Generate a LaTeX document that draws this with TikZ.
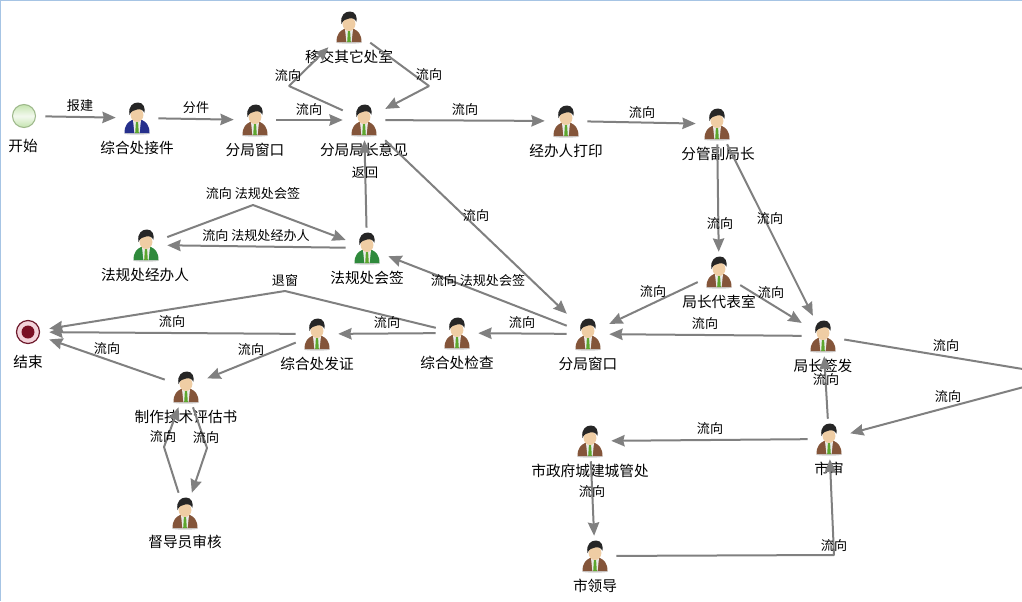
\documentclass[tikz,border=0pt]{standalone}
\usepackage{fontspec}
\setmainfont{Noto Sans CJK SC}
\usetikzlibrary{arrows.meta}
\definecolor{flowgray}{HTML}{808080}
\definecolor{coatbrown}{HTML}{84553A}
\definecolor{coatblue}{HTML}{26308C}
\definecolor{coatgreen}{HTML}{2F8A3C}
\definecolor{skin}{HTML}{EFCDA4}
\definecolor{hair}{HTML}{262626}
\definecolor{tiegreen}{HTML}{5DA62E}
\definecolor{framecol}{HTML}{A6C4E4}
\definecolor{startrim}{HTML}{9DB88A}
\definecolor{startfill}{HTML}{C4E3AE}
\definecolor{endrim}{HTML}{6E1A2C}
\definecolor{endring}{HTML}{F3D3DA}
\definecolor{endcore}{HTML}{7A1024}
\tikzset{
	man/.pic={
		\fill[black!18] (0,15.5) ellipse [x radius=13, y radius=1.2];
		\fill[#1] (-12.5,15) .. controls (-12.5,7) and (-9,4) .. (-5,2) -- (5,2) .. controls (9,4) and (12.5,7) .. (12.5,15) -- cycle;
		\fill[white!92!black] (-4,2) -- (4,2) -- (2.6,15) -- (-2.6,15) -- cycle;
		\fill[tiegreen] (-1.1,4) -- (1.1,4) -- (1.8,15) -- (-1.8,15) -- cycle;
		\fill[skin] (0,-3) ellipse [x radius=6.4, y radius=7];
		\fill[hair] (-7.5,-3) .. controls (-9,-12) and (-4,-15.5) .. (1,-15.5) .. controls (6.5,-15.5) and (8.5,-10) .. (7.4,-5)
			.. controls (6.5,-8) and (3,-9.5) .. (0,-8.5) .. controls (-3,-8) and (-6,-7) .. (-7.5,-3) -- cycle;
	}
}
\begin{document}
\begin{tikzpicture}[x=0.75pt,y=-0.75pt,
	flow/.style={-{Stealth[length=10pt,width=8.5pt,inset=1pt]},flowgray,line width=1.5pt,line join=bevel},
	main/.style={shape=rectangle, minimum width=31.5pt, minimum height=30pt, inner sep=0pt},
	nametext/.style={font=\fontsize{11pt}{12pt}\selectfont, inner sep=0pt},
	lbl/.style={font=\fontsize{9.8pt}{11pt}\selectfont, inner sep=0pt}];
	\useasboundingbox (0,0) rectangle (1022,601);
	\clip (0,0) rectangle (1022,601);
	\fill[white] (0,0) rectangle (1022,601);
	\draw[framecol, line width=1.2pt] (0,601) -- (0,0) -- (1022,0);

	% start and end events
	\node[main] (start) at (24,116) {};
	\node[main] (end) at (28,332) {};
	\shade[top color=startfill, bottom color=startfill, middle color=white!80!startfill, draw=startrim, line width=.8pt] (start.center) circle [radius=11.5];
	\fill[endring] (end.center) circle [radius=11.5];
	\draw[endrim, line width=.9pt] (end.center) circle [radius=11.5];
	\fill[endcore] (end.center) circle [radius=6.5];
	\node[nametext] (startname) at (23,146) {开始};
	\node[nametext] (endname) at (28,362) {结束};

	% people
	\node[main] (yijiao) at (349,27) {};
	\node[main] (jiejian) at (137,118) {};
	\node[main] (chuangkou) at (255,120) {};
	\node[main] (yijian) at (364,120) {};
	\node[main] (dayin) at (566,121) {};
	\node[main] (fujuzhang) at (717,124) {};
	\node[main] (jingban) at (146,245) {};
	\node[main] (huiqian) at (367,248) {};
	\node[main] (daibiao) at (719,272) {};
	\node[main] (fazheng) at (317,334) {};
	\node[main] (jiancha) at (457,333) {};
	\node[main] (chuangkoub) at (588,334) {};
	\node[main] (qianfa) at (823,336) {};
	\node[main] (pinggu) at (186,387) {};
	\node[main] (shishen) at (829,439) {};
	\node[main] (chengguan) at (590,441) {};
	\node[main] (dudao) at (185,513) {};
	\node[main] (shilingdao) at (595,556) {};

	\foreach \n/\c in {yijiao/coatbrown,jiejian/coatblue,chuangkou/coatbrown,yijian/coatbrown,dayin/coatbrown,
		fujuzhang/coatbrown,jingban/coatgreen,huiqian/coatgreen,daibiao/coatbrown,fazheng/coatbrown,jiancha/coatbrown,
		chuangkoub/coatbrown,qianfa/coatbrown,pinggu/coatbrown,shishen/coatbrown,chengguan/coatbrown,dudao/coatbrown,shilingdao/coatbrown}
		\pic at (\n) {man=\c};

	\foreach \n/\t/\x/\y in {yijiaot/移交其它处室/349/57,jiejiant/综合处接件/137/148,chuangkout/分局窗口/255/150,
		yijiant/分局局长意见/364/150,dayint/经办人打印/566/151,fujuzhangt/分管副局长/718/154,jingbant/法规处经办人/145/275,
		huiqiant/法规处会签/367/278,daibiaot/局长代表室/719/302,fazhengt/综合处发证/317/364,jianchat/综合处检查/457/363,
		chuangkoubt/分局窗口/588/364,qianfat/局长签发/823/366,pinggut/制作技术评估书/186/417,shishent/市审/829/469,
		chengguant/市政府城建城管处/590/471,dudaot/督导员审核/185/542,shilingdaot/市领导/595/586}
		\node[nametext] (\n) at (\x,\y) {\t};

	% bends of the connectors
	\coordinate (a1) at (289,86);
	\coordinate (a2) at (429,86);
	\coordinate (a3) at (253,205);
	\coordinate (a4) at (285,291);
	\coordinate (a5) at (207,448);
	\coordinate (a6) at (164,447);
	\coordinate (a7) at (1065,376);
	\coordinate (a8) at (834,555);

	\path[flow]
	(start) edge (jiejian)
	(jiejian) edge (chuangkou)
	(chuangkou) edge (yijian)
	(yijian) edge (dayin)
	(dayin) edge (fujuzhang)
	(fujuzhang) edge (daibiao)
	(fujuzhang) edge (qianfa)
	(daibiao) edge (chuangkoub)
	(daibiao) edge (qianfa)
	(qianfa) edge (chuangkoub)
	(shishen) edge (qianfa)
	(shishen) edge (chengguan)
	(chengguan) edge (shilingdao)
	(yijian) edge (chuangkoub)
	(chuangkoub) edge (jiancha)
	(chuangkoub) edge (huiqian)
	(huiqian) edge (yijian)
	(huiqian) edge (jingban)
	(jiancha) edge (fazheng)
	(fazheng) edge (end)
	(fazheng) edge (pinggu)
	(pinggu) edge (end);
	\draw[flow] (yijian) -- (a1) -- (yijiao);
	\draw[flow] (yijiao) -- (a2) -- (yijian);
	\draw[flow] (jingban) -- (a3) -- (huiqian);
	\draw[flow] (jiancha) -- (a4) -- (end);
	\draw[flow] (pinggu) -- (a5) -- (dudao);
	\draw[flow] (dudao) -- (a6) -- (pinggu);
	\draw[flow] (qianfa) -- (a7) -- (shishen);
	\draw[flow] (shilingdao) -- (a8) -- (shishen);

	% connector labels
	\foreach \t/\x/\y [count=\i] in {报建/80/106,分件/196/108,流向/309/110,流向/288/76,流向/429/75,返回/365/173,流向/465/110,
		流向/642/113,流向 法规处会签/253/194,流向 法规处经办人/256/236,流向/476/216,流向/720/224,流向/770/219,
		流向 法规处会签/478/281,流向/653/292,流向/771/293,流向/705/324,流向/522/323,流向/387/323,退窗/285/281,
		流向/172/322,流向/107/349,流向/251/350,流向/163/437,流向/206/438,流向/946/346,流向/948/397,流向/826/380,
		流向/710/429,流向/592/492,流向/834/546}
		\node[lbl] (lab\i) at (\x,\y) {\t};
\end{tikzpicture}
\end{document}
